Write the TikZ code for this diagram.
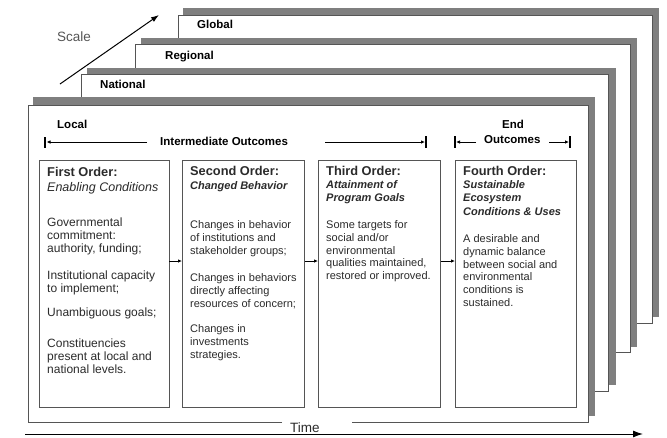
\documentclass[tikz,border=0pt]{standalone}
\usepackage{fontspec}
\setmainfont{Liberation Sans}
\usetikzlibrary{arrows.meta}
\definecolor{shadowgray}{HTML}{7F7F7F}
\definecolor{edgegray}{HTML}{555555}
\definecolor{txt}{HTML}{2B2B2B}
\definecolor{scalegray}{HTML}{555555}
\begin{document}
\begin{tikzpicture}[x=1pt,y=-1pt,
  layershadow/.style={fill=shadowgray,draw=none},
  layerwhite/.style={fill=white,draw=edgegray,line width=0.9pt},
  orderbox/.style={draw=edgegray,line width=0.9pt,fill=white,anchor=north west,inner sep=0pt,minimum height=247.5pt},
  lbl/.style={anchor=base west,inner sep=0pt,font=\bfseries\fontsize{11.5}{13}\selectfont,text=black},
  ttl/.style={anchor=base west,inner sep=0pt,font=\bfseries\fontsize{12.8}{14}\selectfont,text=txt},
  subit/.style={anchor=north west,inner sep=0pt,align=left,font=\bfseries\itshape\fontsize{11}{13.5}\selectfont,text=txt},
  body/.style={anchor=north west,inner sep=0pt,align=left,font=\fontsize{11}{12.9}\selectfont,text=txt},
  bodyone/.style={anchor=north west,inner sep=0pt,align=left,font=\fontsize{12}{13.3}\selectfont,text=txt},
  bar/.style={line width=2.2pt,black},
  harrow/.style={-{Latex[length=4pt,width=3.5pt]},line width=0.8pt,black},
  boxarrow/.style={-{Latex[length=4pt,width=3.5pt]},line width=0.8pt,black},
]
\useasboundingbox (0,0) rectangle (667,437);

% ---- layers (back to front)
\fill[layershadow] (183,8) rectangle (659,317);
\draw[layerwhite] (178,15) rectangle (652,323);
\fill[layershadow] (141,38) rectangle (637,347);
\draw[layerwhite] (135,44) rectangle (630,352);
\fill[layershadow] (87,68) rectangle (616,385);
\draw[layerwhite] (81,74) rectangle (608,391);
\fill[layershadow] (33,97) rectangle (595,416);
\fill[white] (28,105) rectangle (588,422);
\draw[edgegray,line width=0.9pt] (282,422) -- (28,422) -- (28,105) -- (588,105) -- (588,422) -- (352,422);

% ---- layer labels
\node[lbl] (global) at (197,28) {Global};
\node[lbl] (regional) at (165,59) {Regional};
\node[lbl] (national) at (100,88) {National};
\node[lbl] (local) at (57,128) {Local};

% ---- scale arrow
\node[anchor=base west,inner sep=0pt,font=\fontsize{13.5}{15}\selectfont,text=scalegray] (scale) at (57,41) {Scale};
\coordinate (s0) at (60,84);
\coordinate (s1) at (159,15);
\draw[-{Latex[length=8pt,width=5.5pt]},line width=1pt,black] (s0) -- (s1);

% ---- time arrow
\node[anchor=base west,inner sep=0pt,font=\fontsize{13.5}{15}\selectfont,text=txt] (time) at (290,432) {Time};
\coordinate (t0) at (25,434);
\coordinate (t1) at (643,434);
\draw[-{Latex[length=10pt,width=7pt]},line width=1pt,black] (t0) -- (t1);

% ---- outcome arrows
\node[lbl] (inter) at (160,145) {Intermediate Outcomes};
\coordinate (ia0) at (45,137); \coordinate (ia1) at (45,148);
\draw[bar] (ia0) -- (ia1);
\coordinate (il0) at (147,142); \coordinate (il1) at (46.5,142);
\draw[harrow] (il0) -- (il1);
\coordinate (ir0) at (325,142); \coordinate (ir1) at (425,142);
\draw[harrow] (ir0) -- (ir1);
\coordinate (ib0) at (426,136); \coordinate (ib1) at (426,148);
\draw[bar] (ib0) -- (ib1);

\node[anchor=base,inner sep=0pt,font=\bfseries\fontsize{11.5}{13}\selectfont] (endw) at (513,128) {End};
\node[lbl] (outc) at (484,143) {Outcomes};
\coordinate (eb0) at (455,136); \coordinate (eb1) at (455,148);
\draw[bar] (eb0) -- (eb1);
\coordinate (el0) at (476,142); \coordinate (el1) at (456,142);
\draw[harrow] (el0) -- (el1);
\coordinate (er0) at (549,142); \coordinate (er1) at (569,142);
\draw[harrow] (er0) -- (er1);
\coordinate (ec0) at (570,136); \coordinate (ec1) at (570,148);
\draw[bar] (ec0) -- (ec1);

% ---- order boxes
\node[orderbox,minimum width=130pt] (b1) at (38.5,159.5) {};
\node[orderbox,minimum width=122pt] (b2) at (182,159.5) {};
\node[orderbox,minimum width=122pt] (b3) at (318,159.5) {};
\node[orderbox,minimum width=121pt] (b4) at (455,159.5) {};

\coordinate (arow) at (0,261);
\draw[boxarrow] (b1.east |- arow) -- (b2.west |- arow);
\draw[boxarrow] (b2.east |- arow) -- (b3.west |- arow);
\draw[boxarrow] (b3.east |- arow) -- (b4.west |- arow);

% box 1
\node[ttl] (t1a) at (47,176) {First Order:};
\node[anchor=base west,inner sep=0pt,font=\itshape\fontsize{12.5}{14}\selectfont,text=txt] (s1a) at (47,191) {Enabling Conditions};
\node[bodyone] (p1a) at (47,216.5) {\rule{0pt}{9.5pt}Governmental\\commitment:\\authority, funding;};
\node[bodyone] (p1b) at (47,269.5) {\rule{0pt}{9.5pt}Institutional capacity\\to implement;};
\node[bodyone] (p1c) at (47,306.5) {\rule{0pt}{9.5pt}Unambiguous goals;};
\node[bodyone] (p1d) at (47,337.5) {\rule{0pt}{9.5pt}Constituencies\\present at local and\\national levels.};

% box 2
\node[ttl] (t2a) at (190,175) {Second Order:};
\node[subit] (s2a) at (190,180) {\rule{0pt}{9pt}Changed Behavior};
\node[body] (p2a) at (190,219) {\rule{0pt}{9pt}Changes in behavior\\of institutions and\\stakeholder groups;};
\node[body] (p2b) at (190,272) {\rule{0pt}{9pt}Changes in behaviors\\directly affecting\\resources of concern;};
\node[body] (p2c) at (190,323) {\rule{0pt}{9pt}Changes in\\investments\\strategies.};

% box 3
\node[ttl] (t3a) at (326,175) {Third Order:};
\node[subit] (s3a) at (326,179) {\rule{0pt}{9pt}Attainment of\\Program Goals};
\node[body] (p3a) at (326,219) {\rule{0pt}{9pt}Some targets for\\social and/or\\environmental\\qualities maintained,\\restored or improved.};

% box 4
\node[ttl] (t4a) at (463,175) {Fourth Order:};
\node[subit] (s4a) at (463,179) {\rule{0pt}{9pt}Sustainable\\Ecosystem\\Conditions \& Uses};
\node[body] (p4a) at (463,233) {\rule{0pt}{9pt}A desirable and\\dynamic balance\\between social and\\environmental\\conditions is\\sustained.};
\end{tikzpicture}
\end{document}
